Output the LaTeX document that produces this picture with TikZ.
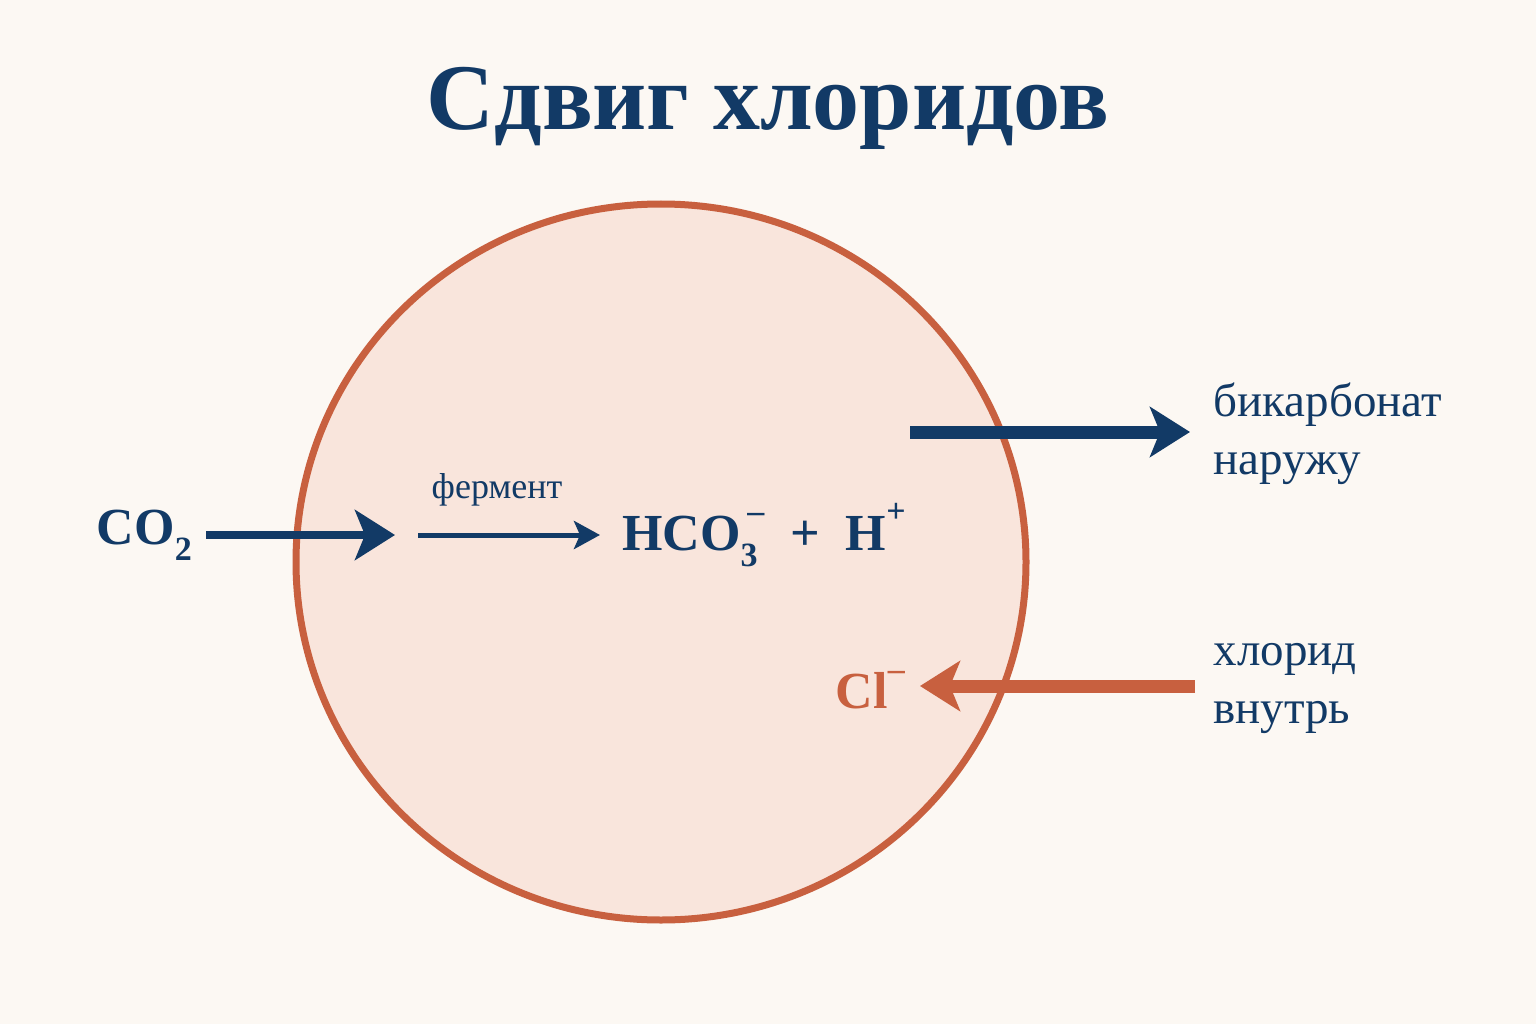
\documentclass[tikz,border=0pt]{standalone}
\usepackage{fontspec}
\setmainfont{Liberation Serif}
\usetikzlibrary{arrows.meta,shapes.geometric}
\definecolor{navy}{HTML}{123A66}
\definecolor{rust}{HTML}{C8603F}
\definecolor{bg}{HTML}{FCF8F3}
\definecolor{cell}{HTML}{F9E5DC}
\newcommand{\sbs}[1]{\raisebox{-0.3em}{\fontsize{34}{34}\selectfont #1}}
\newcommand{\sps}[1]{\raisebox{0.55em}{\fontsize{34}{34}\selectfont #1}}
\begin{document}
\begin{tikzpicture}[x=1pt,y=-1pt,
  lab/.style={font=\fontsize{47}{58}\selectfont, text=navy, align=left, anchor=west},
  chem/.style={font=\fontsize{52}{56}\selectfont\bfseries, text=navy},
  arr/.style={draw=navy, -{Stealth[length=40,width=50,inset=10]}}]
\useasboundingbox[fill=bg] (0,0) rectangle (1536,1024);
\node[font=\fontsize{94}{100}\selectfont\bfseries, text=navy] (title) at (768,108) {Сдвиг хлоридов};
\node[draw=rust, line width=7, fill=cell, ellipse, minimum width=730, minimum height=716, inner sep=0] (cellc) at (661,562) {};
\node[chem, anchor=east, inner sep=0] (co2) at (192,535) {CO\sbs{2}};
\coordinate (a1) at (395,535);
\draw[arr, line width=8] (co2.east) ++(14,0) -- (a1);
\coordinate (f0) at (418,535);
\node[chem, anchor=west, inner sep=0] (hco) at (622,535) {HCO\sbs{3}\hspace{-0.2em}\sps{–}\enspace +\enspace H\sps{+}};
\coordinate (f1) at (600,535);
\draw[draw=navy, line width=5, -{Stealth[length=26,width=28,inset=6]}] (f0) -- (f1);
\node[font=\fontsize{36}{40}\selectfont, text=navy] (ferm) at (497,490) {фермент};
\coordinate (b0) at (910,432);
\coordinate (b1) at (1190,432);
\draw[arr, line width=13] (b0) -- (b1);
\node[lab] (bic) at (1210,434) {бикарбонат\\наружу};
\node[lab] (chl) at (1210,688) {хлорид\\внутрь};
\node[chem, text=rust, anchor=east, inner sep=0] (cl) at (905,690) {Cl\sps{–}};
\coordinate (c0) at (1195,686);
\coordinate (c1) at (920,686);
\draw[draw=rust, line width=13, -{Stealth[length=40,width=50,inset=10]}] (c0) -- (c1);
\end{tikzpicture}
\end{document}
